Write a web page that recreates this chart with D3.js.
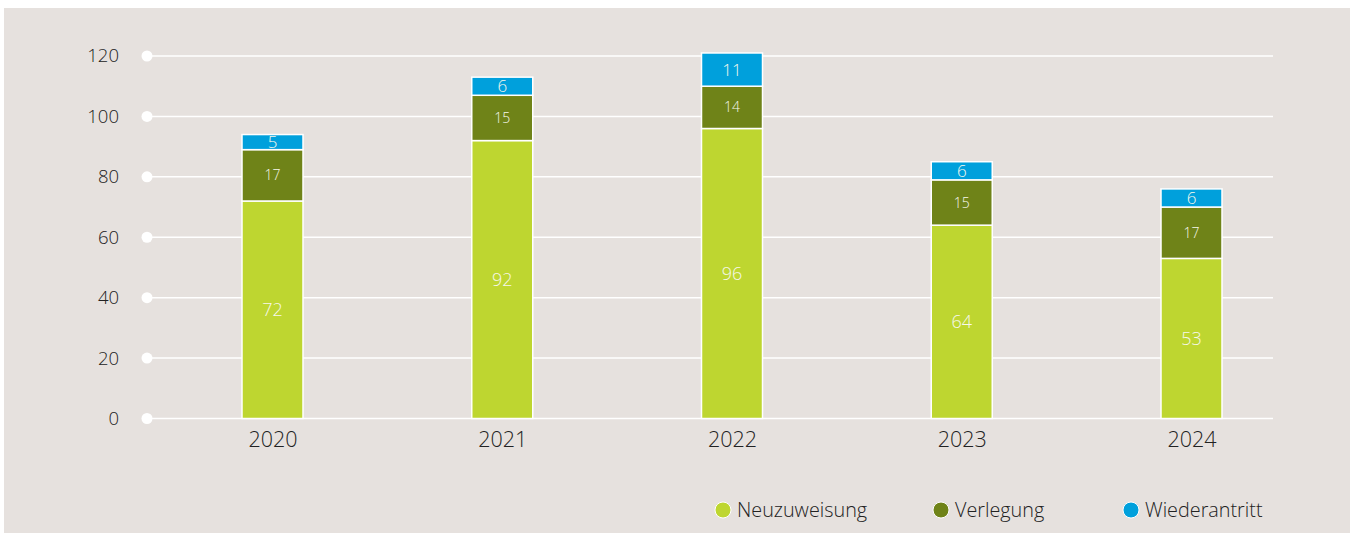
<!DOCTYPE html>
<html>
<head>
<meta charset="utf-8">
<script src="https://cdn.jsdelivr.net/npm/d3@7"></script>
<style>
  body { margin: 0; background: #ffffff; }
  svg { display: block; font-family: "Open Sans", "Noto Sans", sans-serif; }
</style>
</head>
<body>
<div id="chart-area"></div>
<script>
// data
var years = ["2020", "2021", "2022", "2023", "2024"];
var neuzuweisung = [72, 92, 96, 64, 53];
var verlegung = [17, 15, 14, 15, 17];
var wiederantritt = [5, 6, 11, 6, 6];
var seriesNames = ["Neuzuweisung", "Verlegung", "Wiederantritt"];
var yTicks = [0, 20, 40, 60, 80, 100, 120];

var colors = ["#bed630", "#6f8318", "#00a0dc"];
var labelSize = [18, 14, 17];

var width = 1354, height = 536;

var svg = d3.select("#chart-area")
  .append("svg")
  .attr("width", width)
  .attr("height", height);

// panel background
svg.append("rect")
  .attr("x", 4).attr("y", 8)
  .attr("width", 1346).attr("height", 525)
  .attr("fill", "#e6e1de");

var y = d3.scaleLinear().domain([0, 120]).range([418.5, 56]);
var x = d3.scalePoint().domain(years).range([272.5, 1191.5]);
var barW = 61;

// grid lines + dots
var grid = svg.append("g");
grid.selectAll("line")
  .data(yTicks)
  .enter()
  .append("line")
    .attr("x1", 147).attr("x2", 1273)
    .attr("y1", function(d) { return y(d); })
    .attr("y2", function(d) { return y(d); })
    .attr("stroke", "#ffffff")
    .attr("stroke-width", 1.5);
grid.selectAll("circle")
  .data(yTicks)
  .enter()
  .append("circle")
    .attr("cx", 147)
    .attr("cy", function(d) { return y(d); })
    .attr("r", 5.5)
    .attr("fill", "#ffffff");

// y axis labels
var yAxis = d3.axisLeft(y).tickValues(yTicks).tickSize(0).tickPadding(0);
var yAxisGroup = svg.append("g")
  .attr("transform", "translate(119,0)")
  .call(yAxis);
yAxisGroup.select(".domain").remove();
yAxisGroup.selectAll("text")
  .attr("font-size", 18.5)
  .attr("font-weight", 300)
  .attr("fill", "#222222")
  .attr("font-family", "\"Open Sans\", sans-serif");

// x axis labels
var xAxis = d3.axisBottom(x).tickSize(0).tickPadding(0);
var xAxisGroup = svg.append("g")
  .attr("transform", "translate(0,432)")
  .call(xAxis);
xAxisGroup.select(".domain").remove();
xAxisGroup.selectAll("text")
  .attr("font-size", 21.5)
  .attr("font-weight", 300)
  .attr("fill", "#222222")
  .attr("font-family", "\"Open Sans\", sans-serif");

// stacked data
var table = years.map(function(yr, i) {
  return { year: yr, Neuzuweisung: neuzuweisung[i], Verlegung: verlegung[i], Wiederantritt: wiederantritt[i] };
});
var stacked = d3.stack().keys(seriesNames)(table);

var layers = svg.selectAll(".layer")
  .data(stacked)
  .enter()
  .append("g")
    .attr("class", "layer");

layers.selectAll("rect")
  .data(function(s, si) { return s.map(function(d) { return { d: d, si: si }; }); })
  .enter()
  .append("rect")
    .attr("x", function(o) { return x(o.d.data.year) - barW / 2; })
    .attr("y", function(o) { return y(o.d[1]); })
    .attr("width", barW)
    .attr("height", function(o) { return y(o.d[0]) - y(o.d[1]); })
    .attr("fill", function(o) { return colors[o.si]; })
    .attr("stroke", "#ffffff")
    .attr("stroke-width", 1.5);

layers.selectAll("text")
  .data(function(s, si) { return s.map(function(d) { return { d: d, si: si }; }); })
  .enter()
  .append("text")
    .attr("x", function(o) { return x(o.d.data.year); })
    .attr("y", function(o) { return (y(o.d[0]) + y(o.d[1])) / 2; })
    .attr("dy", "0.36em")
    .attr("text-anchor", "middle")
    .attr("font-size", function(o) { return labelSize[o.si]; })
    .attr("font-weight", 300)
    .attr("fill", "#f7f8ec")
    .text(function(o) { return o.d[1] - o.d[0]; });

// legend
var legendX = [723, 941, 1131];
var legend = svg.selectAll(".legend")
  .data(seriesNames)
  .enter()
  .append("g")
    .attr("class", "legend")
    .attr("transform", function(d, i) { return "translate(" + legendX[i] + ",510)"; });
legend.append("circle")
  .attr("r", 8)
  .attr("fill", function(d, i) { return colors[i]; })
  .attr("stroke", "#ffffff")
  .attr("stroke-width", 1);
legend.append("text")
  .attr("x", 14)
  .attr("dy", "0.35em")
  .attr("font-size", 19.8)
  .attr("font-weight", 300)
  .attr("fill", "#222222")
  .text(function(d) { return d; });
</script>
</body>
</html>
